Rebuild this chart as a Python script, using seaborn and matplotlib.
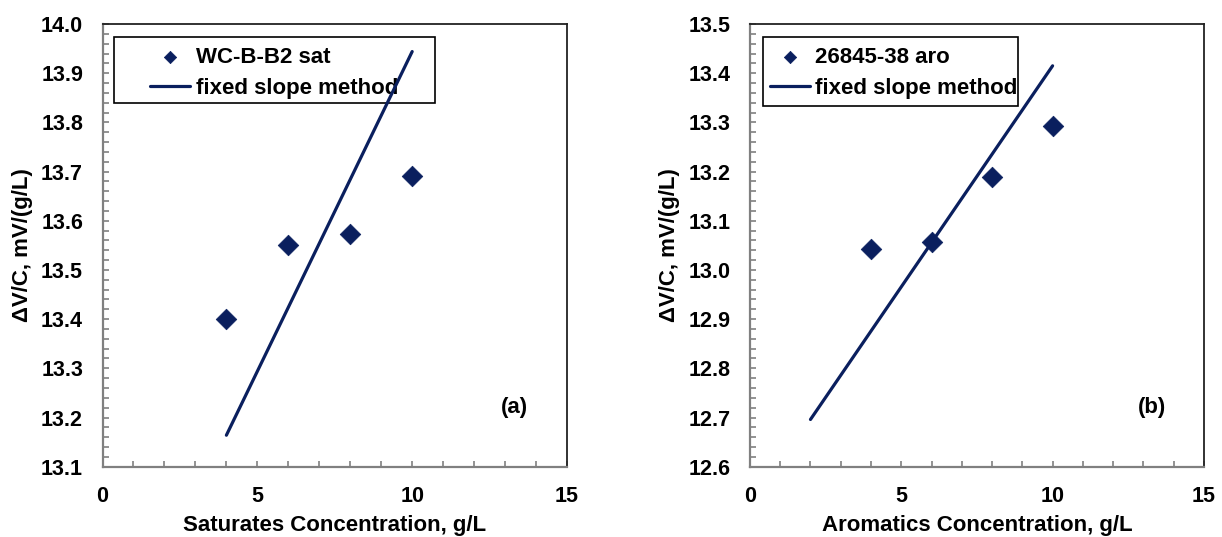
import matplotlib
matplotlib.use("Agg")
import matplotlib.pyplot as plt
import seaborn as sns
import numpy as np
import pandas as pd
from matplotlib.ticker import MultipleLocator, FormatStrFormatter
from matplotlib.patches import Rectangle

# ---- data ----
sat_x = [4, 6, 8, 10]
sat_y = [13.400, 13.551, 13.573, 13.691]
sat_fit_x = [4, 10]
sat_fit_y = [13.164, 13.944]

aro_x = [4, 6, 8, 10]
aro_y = [13.042, 13.057, 13.188, 13.293]
aro_fit_x = [2, 10]
aro_fit_y = [12.696, 13.415]

sat_label = "WC-B-B2 sat"
aro_label = "26845-38 aro"
fit_label = "fixed slope method"

sns.set_theme(style="white")
plt.rcParams['font.family'] = ['Liberation Sans', 'DejaVu Sans']
plt.rcParams['font.weight'] = 'bold'
plt.rcParams['text.color'] = 'black'
plt.rcParams['axes.labelcolor'] = 'black'

NAVY = "#0A1F5E"
fig = plt.figure(figsize=(12.22, 5.37), dpi=100)
axL = fig.add_axes([0.0839, 0.1309, 0.3801, 0.8244])
axR = fig.add_axes([0.6137, 0.1309, 0.3715, 0.8244])

panels = [
    (axL, sat_x, sat_y, sat_fit_x, sat_fit_y, sat_label, (13.1, 14.0),
     "Saturates Concentration, g/L", "(a)", 13.22,
     (0.0248, 0.8215, 0.716 - 0.0248, 0.9713 - 0.8215), 0.1023),
    (axR, aro_x, aro_y, aro_fit_x, aro_fit_y, aro_label, (12.6, 13.5),
     "Aromatics Concentration, g/L", "(b)", 12.72,
     (0.0286, 0.8148, 0.5903 - 0.0286, 0.9713 - 0.8148), 0.044),
]

for ax, x, y, fx, fy, lab, ylim, xlabel, tag, tagy, box, hx in panels:
    ax.set_facecolor("white")
    sns.scatterplot(x=x, y=y, ax=ax, marker="D", s=110, color=NAVY,
                    edgecolor=NAVY, linewidth=0.5, label=lab, zorder=3)
    sns.lineplot(x=fx, y=fy, ax=ax, color=NAVY, linewidth=2.3, label=fit_label,
                 zorder=2, solid_capstyle="round")
    ax.set_xlim(0, 15)
    ax.set_ylim(*ylim)
    ax.xaxis.set_major_locator(MultipleLocator(5))
    ax.xaxis.set_minor_locator(MultipleLocator(1))
    ax.yaxis.set_major_locator(MultipleLocator(0.1))
    ax.yaxis.set_minor_locator(MultipleLocator(0.02))
    ax.yaxis.set_major_formatter(FormatStrFormatter("%.1f"))
    ax.tick_params(which="both", direction="in", length=4, width=1.2,
                   color="#808080", labelcolor="black",
                   left=True, bottom=True, top=False, right=False)
    ax.tick_params(which="major", labelsize=15.5, pad=14)
    for lbl in ax.get_xticklabels() + ax.get_yticklabels():
        lbl.set_fontweight("bold")
    for s in ["left", "bottom"]:
        ax.spines[s].set_color("#808080")
        ax.spines[s].set_linewidth(1.6)
    for s in ["top", "right"]:
        ax.spines[s].set_color("#222222")
        ax.spines[s].set_linewidth(1.3)
        ax.spines[s].set_visible(True)
    ax.set_xlabel(xlabel, fontsize=16, fontweight="bold", labelpad=6, color="black")
    ax.set_ylabel("\u0394V/C, mV/(g/L)", fontsize=16, fontweight="bold", labelpad=6,
                  color="black")
    ax.text(13.3, tagy, tag, fontsize=16, fontweight="bold", ha="center", va="center",
            color="black")
    ax.add_patch(Rectangle((box[0], box[1]), box[2], box[3], transform=ax.transAxes,
                           facecolor="white", edgecolor="black", linewidth=1.2,
                           zorder=1))
    leg = ax.legend(loc="upper left", bbox_to_anchor=(hx, 0.948), frameon=False,
                    fontsize=16, handlelength=1.8, handletextpad=0.25,
                    borderpad=0, labelspacing=0.45, markerscale=0.6,
                    borderaxespad=0)
    leg.set_zorder(1.5)
    for t in leg.get_texts():
        t.set_fontweight("bold")
        t.set_color("black")

fig.savefig("out.png", dpi=100, facecolor="white")
